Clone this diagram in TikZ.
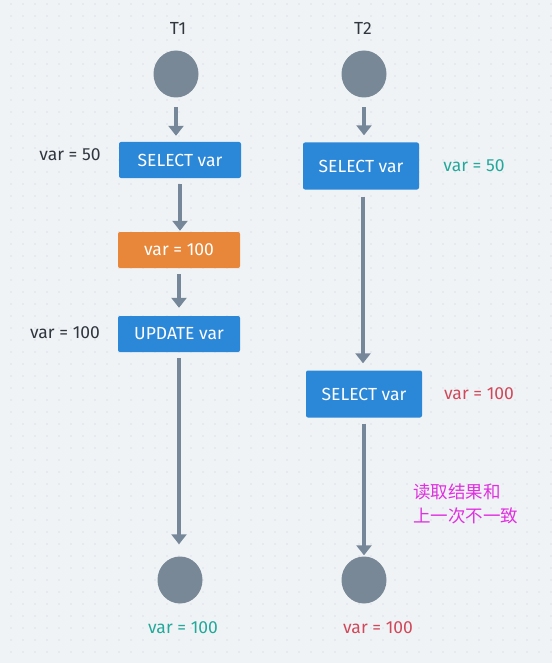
\documentclass[tikz,border=0pt]{standalone}
\usepackage{fontspec}
\setmainfont{Fira Sans}
\newfontfamily\cjk{Noto Sans CJK SC}
\usetikzlibrary{shapes.geometric,arrows.meta}
\definecolor{bgc}{HTML}{F0F3F6}
\definecolor{dotc}{HTML}{C9D0D8}
\definecolor{boxblue}{HTML}{2B87D8}
\definecolor{boxorange}{HTML}{E8873A}
\definecolor{circgray}{HTML}{788896}
\definecolor{arrgray}{HTML}{76879A}
\definecolor{tealc}{HTML}{24A89A}
\definecolor{redc}{HTML}{D0495A}
\definecolor{magc}{HTML}{E030E0}
\definecolor{darkc}{HTML}{2F363E}
\tikzset{
  opbox/.style={fill=boxblue, rounded corners=2pt, text=white, inner sep=0pt,
    minimum width=122pt, minimum height=36pt, font=\fontsize{17.5}{20}\selectfont},
  opbig/.style={opbox, minimum width=116pt, minimum height=47pt},
  endpt/.style={ellipse, fill=circgray, inner sep=0pt, minimum width=45pt, minimum height=47pt},
  lbl/.style={font=\fontsize{17.5}{20}\selectfont, inner sep=0pt},
  flow/.style={draw=arrgray, line width=4pt, -{Triangle[width=15pt,length=10pt]}},
}
\begin{document}
\begin{tikzpicture}[x=1pt,y=-1pt]
\useasboundingbox (0,0) rectangle (552,663);
\fill[bgc] (0,0) rectangle (552,663);
\foreach \i in {0,...,45} {
  \foreach \j in {0,...,54} {
    \fill[dotc] (11+12*\i, 4+12*\j) circle (0.7pt);
  }
}
% T1 column
\node[lbl, text=darkc] (t1) at (178,28) {T1};
\node[endpt] (a0) at (176,74) {};
\node[opbox] (a1) at (180,160) {SELECT var};
\node[opbox, fill=boxorange] (a2) at (179,250) {var = 100};
\node[opbox] (a3) at (179,334) {UPDATE var};
\node[endpt] (a4) at (180,580) {};
\node[lbl, text=darkc] (la1) at (70,155) {var = 50};
\node[lbl, text=darkc] (la3) at (65,333) {var = 100};
\node[lbl, text=tealc] (la4) at (183,628) {var = 100};
% T2 column
\node[lbl, text=darkc] (t2) at (363,28) {T2};
\node[endpt] (b0) at (364,74) {};
\node[opbig] (b1) at (361,166) {SELECT var};
\node[opbig] (b2) at (364,394) {SELECT var};
\node[endpt] (b3) at (364,580) {};
\node[lbl, text=tealc] (lb1) at (474,166) {var = 50};
\node[lbl, text=redc] (lb2) at (479,394) {var = 100};
\node[lbl, text=redc] (lb3) at (378,628) {var = 100};
\node[font=\cjk\fontsize{17.5}{24}\selectfont, text=magc, align=left, anchor=west, inner sep=0pt] (note) at (413,504) {读取结果和\\上一次不一致};
% arrows
\draw[flow, shorten <=9.5pt, shorten >=6pt] (a0.south) -- (a0.south |- a1.north);
\draw[flow, shorten <=6pt, shorten >=1pt] (a1.south) -- (a1.south |- a2.north);
\draw[flow, shorten <=6pt, shorten >=8pt] (a2.south) -- (a2.south |- a3.north);
\draw[flow, shorten <=6pt, shorten >=12pt] (a3.south) -- (a3.south |- a4.north);
\draw[flow, shorten <=9.5pt, shorten >=7pt] (b0.south) -- (b0.south |- b1.north);
\draw[flow, shorten <=7pt, shorten >=7pt] ([xshift=2pt]b1.south) -- ([xshift=2pt]b1.south |- b2.north);
\draw[flow, shorten <=6pt, shorten >=1pt] (b2.south) -- (b2.south |- b3.north);
\end{tikzpicture}
\end{document}
